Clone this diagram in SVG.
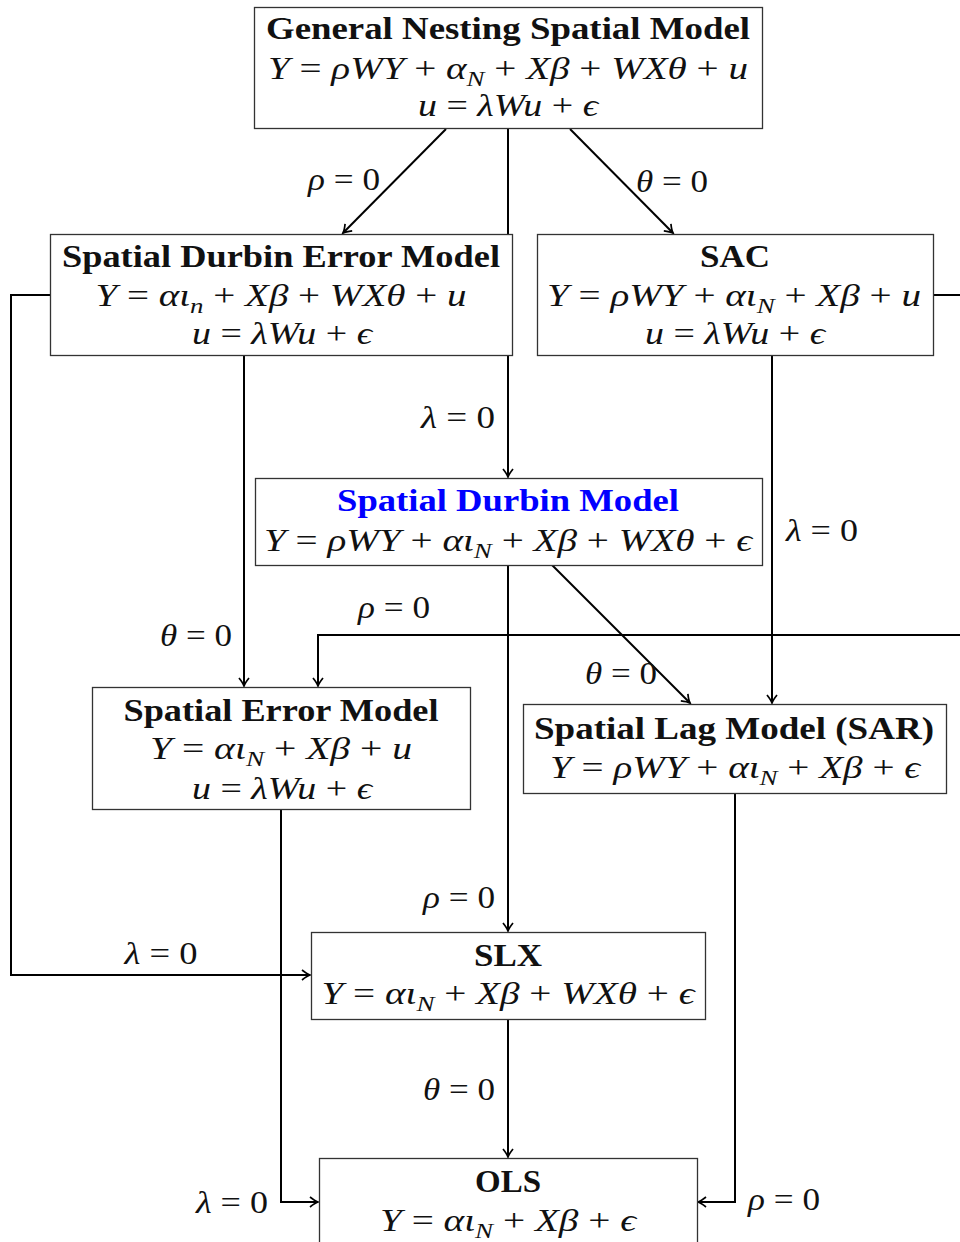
<svg xmlns="http://www.w3.org/2000/svg" width="960" height="1242" viewBox="0 0 960 1242">
  <style>
    .box { fill: #fff; stroke: #333; stroke-width: 1.3; }
    .t { font-family: "Liberation Serif", "DejaVu Serif", serif; font-weight: bold; font-size: 32px; fill: #111; }
    .m { font-family: "Liberation Serif", "DejaVu Serif", serif; font-size: 32px; fill: #111; }
    .i { font-style: italic; }
    .s { font-size: 22px; font-style: italic; }
    .blue { fill: #0000ff; }
    .c { fill: none; stroke: #000; stroke-width: 2; }
  </style>
  <defs>
    <marker id="arr" markerWidth="14" markerHeight="14" refX="11" refY="7" orient="auto" markerUnits="userSpaceOnUse">
      <path d="M3,2 Q8,6 11,7 Q8,8 3,12" fill="none" stroke="#000" stroke-width="1.7"/>
    </marker>
  </defs>
  <rect width="960" height="1242" fill="#fff"/>

  <!-- connectors -->
  <g id="connectors">
    <line class="c" x1="446" y1="129" x2="343" y2="233" marker-end="url(#arr)"/>
    <line class="c" x1="508" y1="129" x2="508" y2="477" marker-end="url(#arr)"/>
    <line class="c" x1="570" y1="129" x2="673" y2="233" marker-end="url(#arr)"/>
    <line class="c" x1="244" y1="355" x2="244" y2="686" marker-end="url(#arr)"/>
    <path class="c" d="M50,295 H11 V975 H310" stroke-width="2.2" marker-end="url(#arr)"/>
    <path class="c" d="M933,295 H975 V635 H318 V686" stroke-width="2.2" marker-end="url(#arr)"/>
    <line class="c" x1="772" y1="355" x2="772" y2="703" marker-end="url(#arr)"/>
    <line class="c" x1="508" y1="565" x2="508" y2="931" marker-end="url(#arr)"/>
    <line class="c" x1="552" y1="565" x2="690" y2="703" marker-end="url(#arr)"/>
    <path class="c" d="M281,809 V1202 H318" stroke-width="2.2" marker-end="url(#arr)"/>
    <path class="c" d="M735,793 V1202 H698" stroke-width="2.2" marker-end="url(#arr)"/>
    <line class="c" x1="508" y1="1019" x2="508" y2="1157" marker-end="url(#arr)"/>

    <!-- edge labels -->
    <text class="m" x="344" y="190" text-anchor="middle" textLength="72" lengthAdjust="spacingAndGlyphs"><tspan class="i">ρ</tspan> = 0</text>
    <text class="m" x="672" y="192" text-anchor="middle" textLength="72" lengthAdjust="spacingAndGlyphs"><tspan class="i">θ</tspan> = 0</text>
    <text class="m" x="458" y="428" text-anchor="middle" textLength="74" lengthAdjust="spacingAndGlyphs"><tspan class="i">λ</tspan> = 0</text>
    <text class="m" x="196" y="646" text-anchor="middle" textLength="72" lengthAdjust="spacingAndGlyphs"><tspan class="i">θ</tspan> = 0</text>
    <text class="m" x="394" y="618" text-anchor="middle" textLength="72" lengthAdjust="spacingAndGlyphs"><tspan class="i">ρ</tspan> = 0</text>
    <text class="m" x="822" y="541" text-anchor="middle" textLength="72" lengthAdjust="spacingAndGlyphs"><tspan class="i">λ</tspan> = 0</text>
    <text class="m" x="621" y="684" text-anchor="middle" textLength="72" lengthAdjust="spacingAndGlyphs"><tspan class="i">θ</tspan> = 0</text>
    <text class="m" x="459" y="908" text-anchor="middle" textLength="72" lengthAdjust="spacingAndGlyphs"><tspan class="i">ρ</tspan> = 0</text>
    <text class="m" x="161" y="964" text-anchor="middle" textLength="73" lengthAdjust="spacingAndGlyphs"><tspan class="i">λ</tspan> = 0</text>
    <text class="m" x="459" y="1100" text-anchor="middle" textLength="72" lengthAdjust="spacingAndGlyphs"><tspan class="i">θ</tspan> = 0</text>
    <text class="m" x="232" y="1213" text-anchor="middle" textLength="72" lengthAdjust="spacingAndGlyphs"><tspan class="i">λ</tspan> = 0</text>
    <text class="m" x="784" y="1210" text-anchor="middle" textLength="72" lengthAdjust="spacingAndGlyphs"><tspan class="i">ρ</tspan> = 0</text>
  </g>

  <!-- General Nesting Spatial Model -->
  <g id="gnsm">
    <rect class="box" x="254.5" y="7.5" width="508" height="121"/>
    <text class="t" x="508" y="39" text-anchor="middle" textLength="484" lengthAdjust="spacingAndGlyphs">General Nesting Spatial Model</text>
    <text class="m" x="508" y="79" text-anchor="middle" textLength="480" lengthAdjust="spacingAndGlyphs"><tspan class="i">Y</tspan> = <tspan class="i">ρWY</tspan> + <tspan class="i">α</tspan><tspan class="s" dy="7">N</tspan><tspan dy="-7"> + </tspan><tspan class="i">Xβ</tspan> + <tspan class="i">WXθ</tspan> + <tspan class="i">u</tspan></text>
    <text class="m" x="508" y="116" text-anchor="middle" textLength="180" lengthAdjust="spacingAndGlyphs"><tspan class="i">u</tspan> = <tspan class="i">λWu</tspan> + <tspan class="i">ϵ</tspan></text>
  </g>

  <!-- Spatial Durbin Error Model -->
  <g id="sdem">
    <rect class="box" x="50.5" y="234.5" width="462" height="121"/>
    <text class="t" x="281" y="267" text-anchor="middle" textLength="438" lengthAdjust="spacingAndGlyphs">Spatial Durbin Error Model</text>
    <text class="m" x="281" y="306" text-anchor="middle" textLength="371" lengthAdjust="spacingAndGlyphs"><tspan class="i">Y</tspan> = <tspan class="i">αι</tspan><tspan class="s" dy="7">n</tspan><tspan dy="-7"> + </tspan><tspan class="i">Xβ</tspan> + <tspan class="i">WXθ</tspan> + <tspan class="i">u</tspan></text>
    <text class="m" x="282" y="344" text-anchor="middle" textLength="180" lengthAdjust="spacingAndGlyphs"><tspan class="i">u</tspan> = <tspan class="i">λWu</tspan> + <tspan class="i">ϵ</tspan></text>
  </g>

  <!-- SAC -->
  <g id="sac">
    <rect class="box" x="537.5" y="234.5" width="396" height="121"/>
    <text class="t" x="735" y="267" text-anchor="middle" textLength="70" lengthAdjust="spacingAndGlyphs">SAC</text>
    <text class="m" x="734" y="306" text-anchor="middle" textLength="374" lengthAdjust="spacingAndGlyphs"><tspan class="i">Y</tspan> = <tspan class="i">ρWY</tspan> + <tspan class="i">αι</tspan><tspan class="s" dy="7">N</tspan><tspan dy="-7"> + </tspan><tspan class="i">Xβ</tspan> + <tspan class="i">u</tspan></text>
    <text class="m" x="735" y="344" text-anchor="middle" textLength="180" lengthAdjust="spacingAndGlyphs"><tspan class="i">u</tspan> = <tspan class="i">λWu</tspan> + <tspan class="i">ϵ</tspan></text>
  </g>

  <!-- Spatial Durbin Model -->
  <g id="sdm">
    <rect class="box" x="255.5" y="478.5" width="507" height="87"/>
    <text class="t blue" x="508" y="511" text-anchor="middle" textLength="342" lengthAdjust="spacingAndGlyphs">Spatial Durbin Model</text>
    <text class="m" x="508" y="551" text-anchor="middle" textLength="488" lengthAdjust="spacingAndGlyphs"><tspan class="i">Y</tspan> = <tspan class="i">ρWY</tspan> + <tspan class="i">αι</tspan><tspan class="s" dy="7">N</tspan><tspan dy="-7"> + </tspan><tspan class="i">Xβ</tspan> + <tspan class="i">WXθ</tspan> + <tspan class="i">ϵ</tspan></text>
  </g>

  <!-- Spatial Error Model -->
  <g id="sem">
    <rect class="box" x="92.5" y="687.5" width="378" height="122"/>
    <text class="t" x="281" y="721" text-anchor="middle" textLength="315" lengthAdjust="spacingAndGlyphs">Spatial Error Model</text>
    <text class="m" x="281" y="759" text-anchor="middle" textLength="262" lengthAdjust="spacingAndGlyphs"><tspan class="i">Y</tspan> = <tspan class="i">αι</tspan><tspan class="s" dy="7">N</tspan><tspan dy="-7"> + </tspan><tspan class="i">Xβ</tspan> + <tspan class="i">u</tspan></text>
    <text class="m" x="282" y="799" text-anchor="middle" textLength="180" lengthAdjust="spacingAndGlyphs"><tspan class="i">u</tspan> = <tspan class="i">λWu</tspan> + <tspan class="i">ϵ</tspan></text>
  </g>

  <!-- Spatial Lag Model (SAR) -->
  <g id="sar">
    <rect class="box" x="523.5" y="704.5" width="423" height="89"/>
    <text class="t" x="734" y="739" text-anchor="middle" textLength="400" lengthAdjust="spacingAndGlyphs">Spatial Lag Model (SAR)</text>
    <text class="m" x="735" y="778" text-anchor="middle" textLength="370" lengthAdjust="spacingAndGlyphs"><tspan class="i">Y</tspan> = <tspan class="i">ρWY</tspan> + <tspan class="i">αι</tspan><tspan class="s" dy="7">N</tspan><tspan dy="-7"> + </tspan><tspan class="i">Xβ</tspan> + <tspan class="i">ϵ</tspan></text>
  </g>

  <!-- SLX -->
  <g id="slx">
    <rect class="box" x="311.5" y="932.5" width="394" height="87"/>
    <text class="t" x="508" y="966" text-anchor="middle" textLength="68" lengthAdjust="spacingAndGlyphs">SLX</text>
    <text class="m" x="508" y="1004" text-anchor="middle" textLength="373" lengthAdjust="spacingAndGlyphs"><tspan class="i">Y</tspan> = <tspan class="i">αι</tspan><tspan class="s" dy="7">N</tspan><tspan dy="-7"> + </tspan><tspan class="i">Xβ</tspan> + <tspan class="i">WXθ</tspan> + <tspan class="i">ϵ</tspan></text>
  </g>

  <!-- OLS -->
  <g id="ols">
    <rect class="box" x="319.5" y="1158.5" width="378" height="100"/>
    <text class="t" x="508" y="1192" text-anchor="middle" textLength="66" lengthAdjust="spacingAndGlyphs">OLS</text>
    <text class="m" x="508" y="1231" text-anchor="middle" textLength="256" lengthAdjust="spacingAndGlyphs"><tspan class="i">Y</tspan> = <tspan class="i">αι</tspan><tspan class="s" dy="7">N</tspan><tspan dy="-7"> + </tspan><tspan class="i">Xβ</tspan> + <tspan class="i">ϵ</tspan></text>
  </g>
</svg>
